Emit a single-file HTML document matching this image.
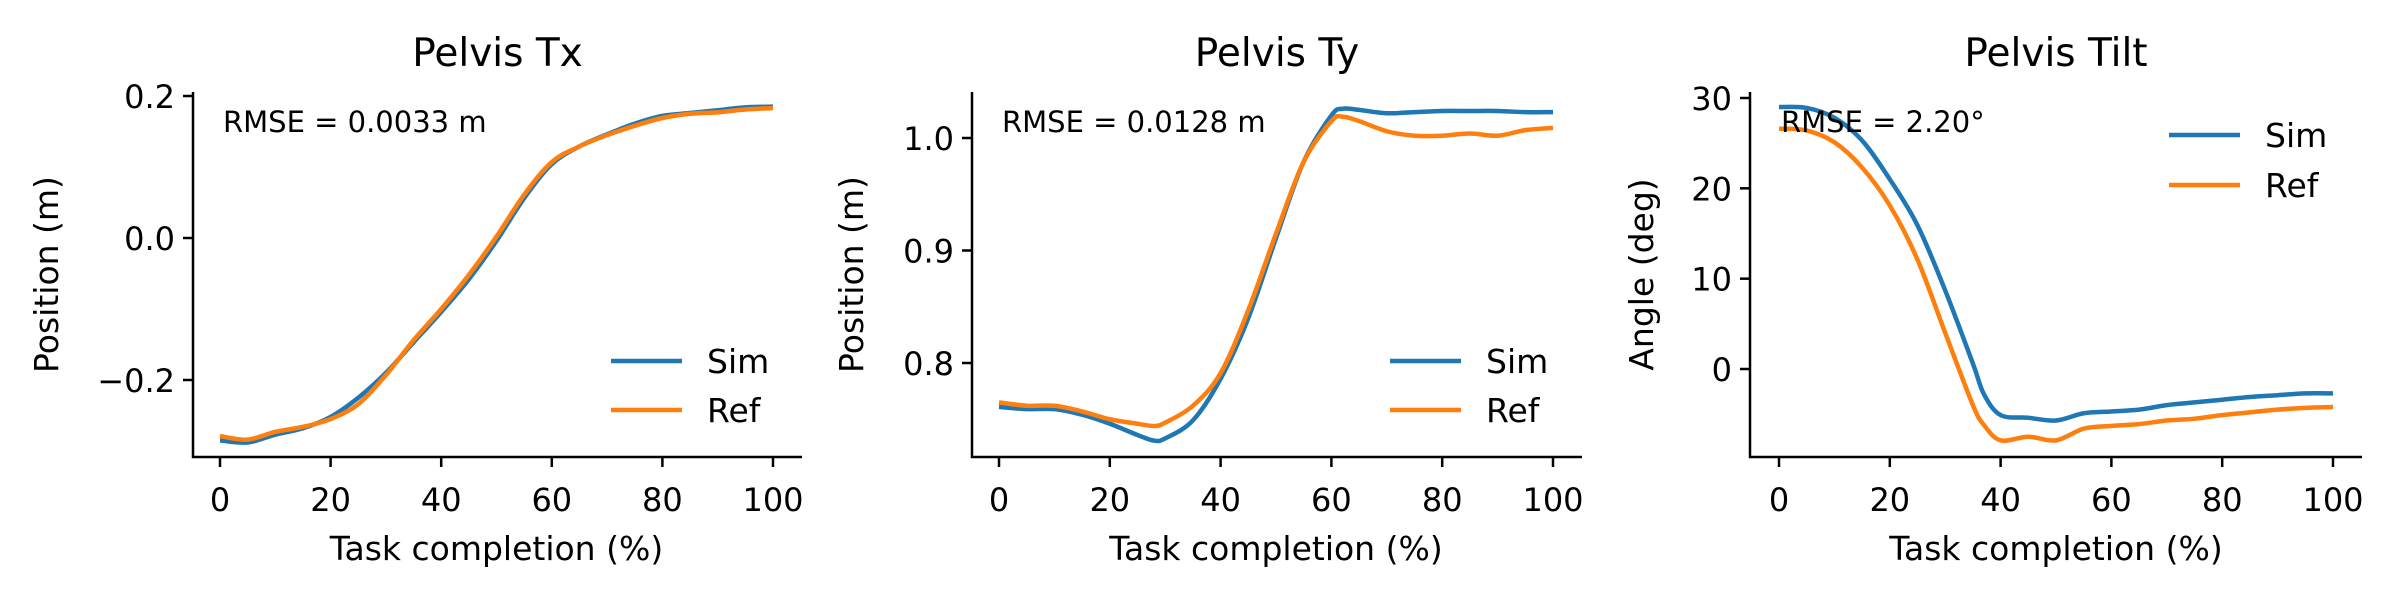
<!DOCTYPE html>
<html><head><meta charset="utf-8"><style>
html,body{margin:0;padding:0;background:#fff;}
svg{display:block;font-family:"DejaVu Sans","Liberation Sans",sans-serif;}
</style></head><body>
<svg id="fig" width="2400" height="600" viewBox="0 0 2400 600"></svg>
<script>
// ---- data ----
const txX = [0,5,10,15,20,25,30,35,40,45,50,55,60,65,70,75,80,85,90,95,100];
const txSim = [-0.285,-0.288,-0.277,-0.268,-0.252,-0.225,-0.19,-0.147,-0.104,-0.058,-0.004,0.056,0.104,0.129,0.146,0.161,0.172,0.176,0.18,0.184,0.185];
const txRef = [-0.279,-0.284,-0.273,-0.266,-0.255,-0.234,-0.193,-0.144,-0.1,-0.052,0.002,0.061,0.107,0.129,0.145,0.158,0.169,0.175,0.177,0.181,0.183];
const tyX = [0,5,10,15,20,25,28,30,35,40,45,50,55,60,62,65,70,75,80,85,90,95,100];
const tySim = [0.761,0.759,0.759,0.754,0.746,0.736,0.731,0.733,0.749,0.786,0.84,0.911,0.979,1.02,1.026,1.025,1.022,1.023,1.024,1.024,1.024,1.023,1.023];
const tyRef = [0.765,0.762,0.762,0.757,0.75,0.746,0.744,0.747,0.762,0.791,0.847,0.915,0.979,1.015,1.019,1.015,1.006,1.002,1.002,1.004,1.002,1.007,1.009];
const tiltX = [0,5,10,15,20,25,30,35,37,40,45,50,55,60,65,70,75,80,85,90,95,100];
const tiltSim = [29.0,28.9,27.8,25.3,21.0,15.9,8.7,0.6,-2.8,-5.1,-5.4,-5.7,-4.9,-4.7,-4.5,-4.0,-3.7,-3.4,-3.1,-2.9,-2.7,-2.7];
const tiltRef = [26.6,26.4,25.1,22.3,18.1,12.1,4.0,-4.0,-6.2,-7.9,-7.5,-7.9,-6.6,-6.3,-6.1,-5.7,-5.5,-5.1,-4.8,-4.5,-4.3,-4.2];
const xTicks = [0,20,40,60,80,100];
const txTicks = [-0.2,0.0,0.2];
const txTickLabels = ["\u22120.2","0.0","0.2"];
const tyTicks = [0.8,0.9,1.0];
const tyTickLabels = ["0.8","0.9","1.0"];
const tiltTicks = [0,10,20,30];
const tiltTickLabels = ["0","10","20","30"];
const titles = ["Pelvis Tx","Pelvis Ty","Pelvis Tilt"];
const rmseLabels = ["RMSE = 0.0033 m","RMSE = 0.0128 m","RMSE = 2.20\u00b0"];
const yLabels = ["Position (m)","Position (m)","Angle (deg)"];

const NS="http://www.w3.org/2000/svg";
const svg=document.getElementById('fig');
function mk(tag,attrs,parent){const e=document.createElementNS(NS,tag);for(const k in attrs)e.setAttribute(k,attrs[k]);(parent||svg).appendChild(e);return e;}
function txt(s,attrs,parent){const e=mk('text',attrs,parent);e.textContent=s;return e;}

const panels=[
 {x0:220,x100:773,left:193,right:802,v1:0.2,p1:96,v2:-0.2,p2:380,ticks:txTicks,tl:txTickLabels,xs:txX,sim:txSim,ref:txRef,ylx:46,legX:611,legY:[361,410],rx:223},
 {x0:999,x100:1553,left:972,right:1582,v1:1.0,p1:138,v2:0.8,p2:363,ticks:tyTicks,tl:tyTickLabels,xs:tyX,sim:tySim,ref:tyRef,ylx:851,legX:1390,legY:[361,410],rx:1002},
 {x0:1779,x100:2333,left:1750,right:2362,v1:30,p1:98,v2:0,p2:369,ticks:tiltTicks,tl:tiltTickLabels,xs:tiltX,sim:tiltSim,ref:tiltRef,ylx:1641,legX:2169,legY:[135,185],rx:1781}
];
const TOP=92,BOT=457;

function smoothPath(pts){
 let d=`M${pts[0][0].toFixed(2)},${pts[0][1].toFixed(2)}`;
 for(let i=0;i<pts.length-1;i++){
  const p0=pts[Math.max(i-1,0)],p1=pts[i],p2=pts[i+1],p3=pts[Math.min(i+2,pts.length-1)];
  const c1=[p1[0]+(p2[0]-p0[0])/6,p1[1]+(p2[1]-p0[1])/6];
  const c2=[p2[0]-(p3[0]-p1[0])/6,p2[1]-(p3[1]-p1[1])/6];
  d+=` C${c1[0].toFixed(2)},${c1[1].toFixed(2)} ${c2[0].toFixed(2)},${c2[1].toFixed(2)} ${p2[0].toFixed(2)},${p2[1].toFixed(2)}`;
 }
 return d;
}

panels.forEach((P,i)=>{
 const g=mk('g',{});
 
 
 const sx=v=>P.x0+(v/100)*(P.x100-P.x0);
 const sy=v=>P.p1+(v-P.v1)*(P.p2-P.p1)/(P.v2-P.v1);
 const cx=(P.left+P.right)/2;
 const t=txt(titles[i],{x:cx,y:66,'text-anchor':'middle','font-size':39,fill:'#000'},g);
 
 
 const sp=mk('path',{d:`M${P.left},${TOP} V${BOT} H${P.right}`,stroke:'#000','stroke-width':2.5,fill:'none'},g);
 
 
 xTicks.forEach(v=>{
  mk('line',{x1:sx(v),x2:sx(v),y1:BOT,y2:BOT+10,stroke:'#000','stroke-width':2.5},g);
  const l=txt(String(v),{x:sx(v),y:511,'text-anchor':'middle','font-size':32,fill:'#000'},g);
  
  
 });
 P.ticks.forEach((v,k)=>{
  mk('line',{x1:P.left-10,x2:P.left,y1:sy(v),y2:sy(v),stroke:'#000','stroke-width':2.5},g);
  const l=txt(P.tl[k],{x:P.left-18,y:sy(v)+12,'text-anchor':'end','font-size':32,fill:'#000'},g);
  
  
 });
 const xl=txt('Task completion (%)',{x:(P.x0+P.x100)/2,y:560,'text-anchor':'middle','font-size':33,fill:'#000'},g);
 
 
 const ymid=(TOP+BOT)/2;
 const yl=txt(yLabels[i],{x:0,y:0,'text-anchor':'middle','font-size':33,fill:'#000',transform:`translate(${P.ylx+12},${ymid}) rotate(-90)`},g);
 
 
 const simPts=P.xs.map((x,k)=>[sx(x),sy(P.sim[k])]);
 const refPts=P.xs.map((x,k)=>[sx(x),sy(P.ref[k])]);
 const s=mk('path',{d:smoothPath(simPts),stroke:'#1f77b4','stroke-width':4.5,fill:'none','stroke-linejoin':'round'},g);
 
 
 const r=mk('path',{d:smoothPath(refPts),stroke:'#ff7f0e','stroke-width':4.5,fill:'none','stroke-linejoin':'round'},g);
 
 
 const rm=txt(rmseLabels[i],{x:P.rx,y:132,'font-size':29,fill:'#000'},g);
 
 
 [['Sim','#1f77b4'],['Ref','#ff7f0e']].forEach((e,k)=>{
  const lg=mk('g',{},g);
  
  
  mk('line',{x1:P.legX,x2:P.legX+71,y1:P.legY[k],y2:P.legY[k],stroke:e[1],'stroke-width':4.5},lg);
  txt(e[0],{x:P.legX+96,y:P.legY[k]+12,'font-size':33,fill:'#000'},lg);
 });
});
</script>
</body></html>
